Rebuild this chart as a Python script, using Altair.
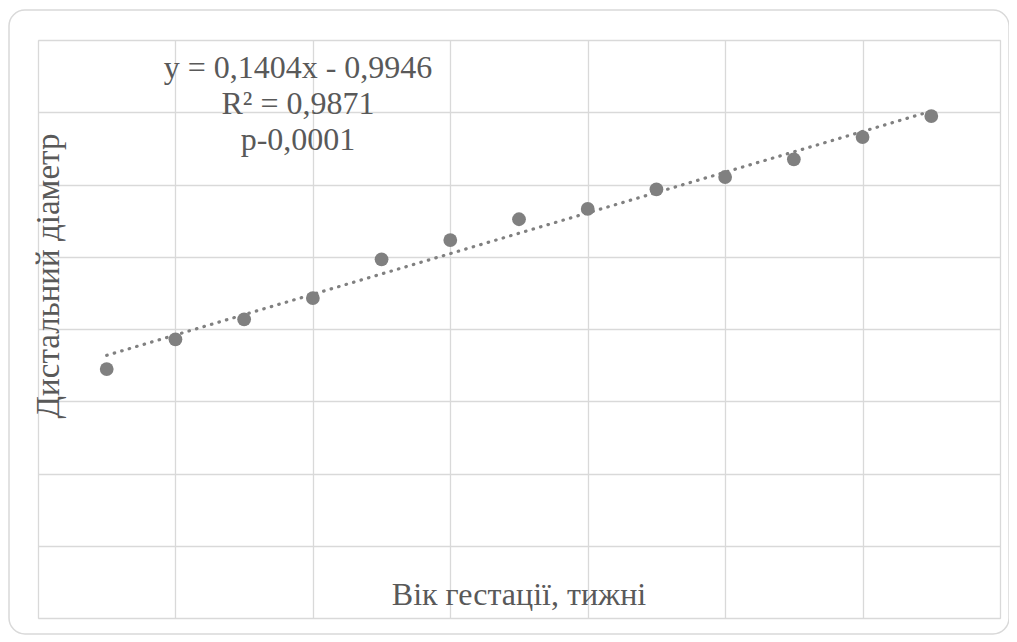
import altair as alt
import pandas as pd

# data
weeks_idx = list(range(1, 14))
diam = [-0.953, -0.744, -0.604, -0.455, -0.184, -0.049, 0.097, 0.169,
        0.307, 0.393, 0.517, 0.673, 0.820]
eq_lines = ["y = 0,1404x - 0,9946", "R² = 0,9871", "p-0,0001"]
x_title = "Вік гестації, тижні"
y_title = "Дистальний діаметр"

X_DOM = [0, 14]
Y_DOM = [-2.697, 1.353]
W, H = 962, 578
FONT = "Liberation Serif"
TXT = "#595959"
GRID = "#d9d9d9"
PT = "#808080"

df = pd.DataFrame({"x": weeks_idx, "y": diam})
xs = alt.Scale(domain=X_DOM, nice=False, zero=False)
ys = alt.Scale(domain=Y_DOM, nice=False, zero=False)
ystep = (Y_DOM[1] - Y_DOM[0]) / 8
yticks = [Y_DOM[0] + i * ystep for i in range(9)]
xticks = list(range(0, 15, 2))

xa = alt.Axis(values=xticks, labels=False, ticks=False, domain=False, title=None,
              grid=True, gridColor=GRID, gridWidth=1.3)
ya = alt.Axis(values=yticks, labels=False, ticks=False, domain=False, title=None,
              grid=True, gridColor=GRID, gridWidth=1.3)

base = alt.Chart(df)

pts = base.mark_circle(size=190, color=PT, opacity=1).encode(
    x=alt.X("x:Q", scale=xs, axis=xa),
    y=alt.Y("y:Q", scale=ys, axis=ya),
)

trend = base.transform_regression("x", "y", method="linear").mark_line(
    color=PT, strokeWidth=3.2, strokeDash=[0.5, 7.3], strokeCap="round"
).encode(x=alt.X("x:Q", scale=xs), y=alt.Y("y:Q", scale=ys))

border = alt.Chart(pd.DataFrame({"a": [0]})).mark_rect(
    fill=None, stroke=GRID, strokeWidth=1.5, cornerRadius=16
).encode(x=alt.value(-29), x2=alt.value(971), y=alt.value(-30), y2=alt.value(594))

eq = alt.Chart(pd.DataFrame({"t": [eq_lines]})).mark_text(
    font=FONT, fontSize=32, color=TXT, align="center", baseline="alphabetic", lineHeight=36
).encode(text="t", x=alt.value(260), y=alt.value(38))

ytl = alt.Chart(pd.DataFrame({"t": [y_title]})).mark_text(
    font=FONT, fontSize=33, color=TXT, align="center", baseline="middle", angle=270
).encode(text="t:N", x=alt.value(11), y=alt.value(236))

xtl = alt.Chart(pd.DataFrame({"t": [x_title]})).mark_text(
    font=FONT, fontSize=32, color=TXT, align="center", baseline="alphabetic"
).encode(text="t:N", x=alt.value(481), y=alt.value(565))

chart = alt.layer(border, trend, pts, eq, ytl, xtl).properties(
    width=W, height=H,
    autosize=alt.AutoSizeParams(type="none"),
    padding={"left": 30, "top": 32, "right": 9, "bottom": 18},
).configure_view(strokeWidth=0).configure(background="white")

chart.save("out.html", embed_options={"renderer": "svg", "actions": False})
